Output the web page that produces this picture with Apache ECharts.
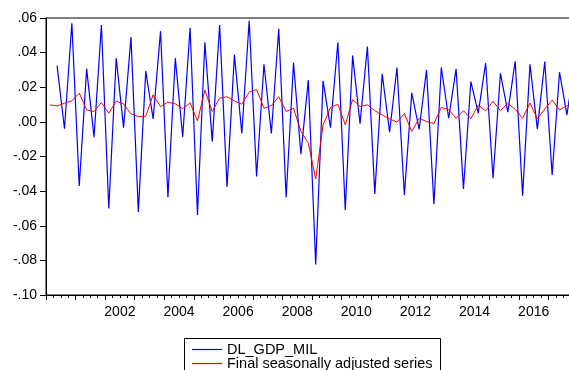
<!DOCTYPE html>
<html>
<head>
<meta charset="utf-8">
<script src="https://cdn.jsdelivr.net/npm/echarts@6/dist/echarts.min.js"></script>
<style>
html,body{margin:0;padding:0;background:#fff;}
#chart{width:569px;height:370px;}
</style>
</head>
<body>
<div id="chart"></div>
<script>
// Quarterly categories 2000Q1 .. 2017Q4
var years = [];
for (var y = 2000; y <= 2017; y++) years.push(y);
var quarters = [];
years.forEach(function (yr) { ['Q1','Q2','Q3','Q4'].forEach(function (q) { quarters.push(yr + q); }); });

// Year labels shown on the x axis (centred on each labelled year)
var yearLabels = ['2002','2004','2006','2008','2010','2012','2014','2016'];
// Y tick labels from -0.10 to 0.06
var yLabels = ['-.10','-.08','-.06','-.04','-.02','.00','.02','.04','.06'];
var seriesNames = ['DL_GDP_MIL', 'Final seasonally adjusted series'];

var dlGdpMil = [
  null, 0.0325, -0.0040, 0.0570,
  -0.0370, 0.0306, -0.0088, 0.0560,
  -0.0500, 0.0368, -0.0033, 0.0490,
  -0.0520, 0.0293, 0.0017, 0.0524,
  -0.0435, 0.0368, -0.0087, 0.0543,
  -0.0538, 0.0460, -0.0114, 0.0560,
  -0.0376, 0.0387, -0.0067, 0.0584,
  -0.0316, 0.0333, -0.0067, 0.0538,
  -0.0437, 0.0341, -0.0187, 0.0241,
  -0.0823, 0.0237, -0.0033, 0.0460,
  -0.0510, 0.0383, -0.0010, 0.0435,
  -0.0416, 0.0277, -0.0060, 0.0314,
  -0.0422, 0.0168, -0.0044, 0.0300,
  -0.0476, 0.0314, 0.0021, 0.0306,
  -0.0387, 0.0233, 0.0050, 0.0339,
  -0.0326, 0.0281, 0.0056, 0.0349,
  -0.0426, 0.0333, -0.0042, 0.0349,
  -0.0306, 0.0287, 0.0040, 0.0320
];

var seasAdj = [
  0.0098, 0.0092, 0.0108, 0.0121,
  0.0166, 0.0069, 0.0060, 0.0112,
  0.0050, 0.0120, 0.0104, 0.0046,
  0.0030, 0.0032, 0.0156, 0.0088,
  0.0114, 0.0104, 0.0076, 0.0110,
  0.0006, 0.0183, 0.0060, 0.0137,
  0.0145, 0.0121, 0.0102, 0.0172,
  0.0187, 0.0079, 0.0094, 0.0145,
  0.0060, 0.0079, -0.0055, -0.0123,
  -0.0330, -0.0017, 0.0083, 0.0102,
  -0.0017, 0.0129, 0.0089, 0.0098,
  0.0065, 0.0040, 0.0017, -0.0002,
  0.0048, -0.0056, 0.0021, 0.0002,
  -0.0010, 0.0083, 0.0071, 0.0021,
  0.0065, 0.0018, 0.0097, 0.0064,
  0.0119, 0.0065, 0.0106, 0.0073,
  0.0021, 0.0109, 0.0018, 0.0074,
  0.0126, 0.0069, 0.0093, 0.0095
];

var FONT = 'Arial, "Liberation Sans", sans-serif';
var chart = echarts.init(document.getElementById('chart'), null, {renderer: 'canvas'});
var nQ = quarters.length;

function legendItem(name, top) {
  return {
    show: true, orient: 'horizontal', left: 192, top: top, padding: 0,
    icon: 'rect', itemWidth: 30, itemHeight: 1.2, itemGap: 0,
    selectedMode: false,
    textStyle: {fontSize: 14.5, lineHeight: 14, color: '#000', fontFamily: FONT, padding: [0, 0, 0, 0]},
    data: [name]
  };
}

chart.setOption({
  animation: false,
  backgroundColor: '#fff',
  grid: {
    left: 46, width: 532, top: 18, height: 277,
    outerBoundsMode: 'none', containLabel: false,
    show: true, borderColor: '#000', borderWidth: 1, backgroundColor: 'transparent'
  },
  xAxis: [
    {
      type: 'category', data: quarters, boundaryGap: true, show: false, position: 'bottom'
    },
    {
      type: 'value', min: 0, max: nQ, interval: 4, position: 'bottom',
      axisLine: {show: true, onZero: false, lineStyle: {color: '#000', width: 1}},
      axisTick: {show: true, inside: false, length: 5, lineStyle: {color: '#000', width: 1}},
      minorTick: {show: true, splitNumber: 4, length: 3, lineStyle: {color: '#000', width: 1}},
      axisLabel: {show: false},
      splitLine: {show: false}, minorSplitLine: {show: false}
    },
    {
      type: 'value', min: 0, max: nQ, interval: 2, position: 'bottom',
      axisLine: {show: false, onZero: false},
      axisTick: {show: false},
      splitLine: {show: false},
      axisLabel: {
        show: true, margin: 10, color: '#000', fontSize: 14, fontFamily: FONT,
        showMinLabel: true, showMaxLabel: true,
        formatter: function (v) {
          if ((v - 2) % 8 !== 0) return '';
          var yr = String(2000 + (v - 2) / 4);
          return yearLabels.indexOf(yr) >= 0 ? yr : '';
        }
      }
    }
  ],
  yAxis: {
    type: 'value', min: -0.10, max: 0.06, interval: 0.02,
    axisLine: {show: true, onZero: false, lineStyle: {color: '#000', width: 1}},
    axisTick: {show: true, length: 6, lineStyle: {color: '#000', width: 1}},
    splitLine: {show: false},
    axisLabel: {
      margin: 9, color: '#000', fontSize: 14, fontFamily: FONT,
      formatter: function (v) { return yLabels[Math.round((v + 0.1) / 0.02)]; }
    }
  },
  graphic: [{
    type: 'rect', z: 1, silent: true,
    shape: {x: 184.5, y: 338.5, width: 256, height: 40},
    style: {fill: '#fff', stroke: '#000', lineWidth: 1}
  }],
  legend: [legendItem(seriesNames[0], 342), legendItem(seriesNames[1], 356)],
  series: [
    {
      name: seriesNames[0], type: 'line', xAxisIndex: 0, data: dlGdpMil,
      symbol: 'none', connectNulls: false,
      lineStyle: {color: '#0000ff', width: 1.2}, itemStyle: {color: '#0000ff'}
    },
    {
      name: seriesNames[1], type: 'line', xAxisIndex: 0, data: seasAdj,
      symbol: 'none',
      lineStyle: {color: '#ff0000', width: 1}, itemStyle: {color: '#ff0000'}
    }
  ]
});
</script>
</body>
</html>
